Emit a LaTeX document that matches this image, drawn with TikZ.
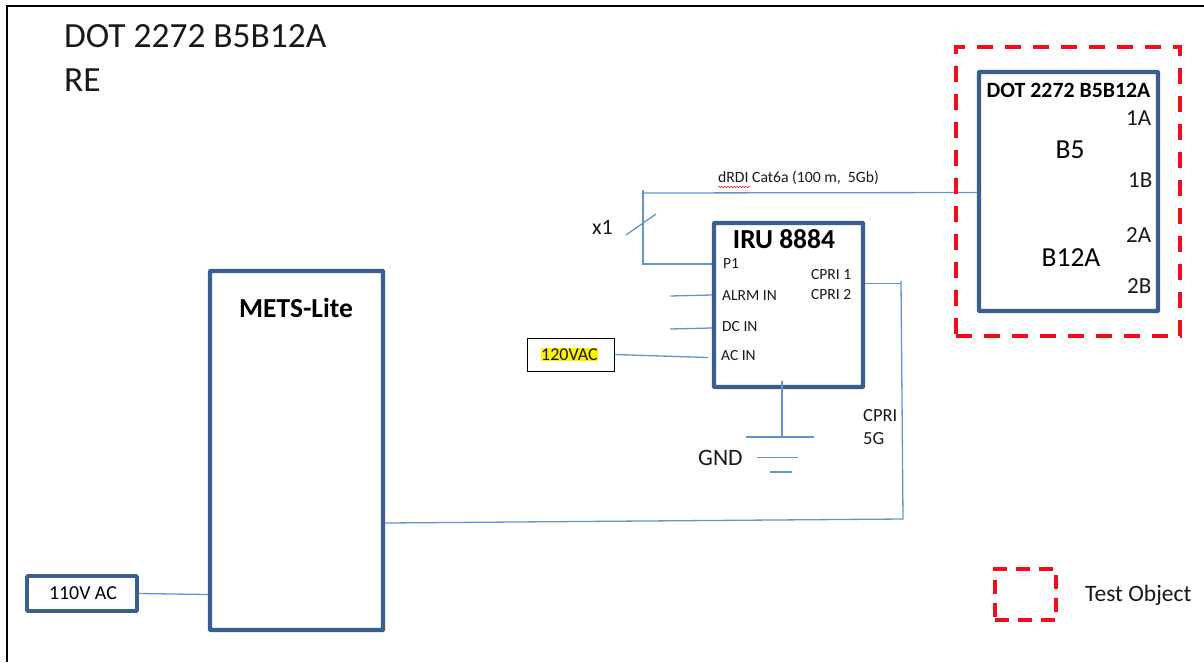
\documentclass[tikz,border=0pt]{standalone}
\usepackage{fontspec}
\setmainfont{Carlito}
\usetikzlibrary{decorations.pathmorphing}
\definecolor{boxblue}{HTML}{3A5F8F}
\definecolor{wireblue}{HTML}{6494CE}
\definecolor{testred}{HTML}{F00D1C}
\tikzset{
  unit/.style={draw=boxblue,line width=4.4pt,rounded corners=0.8pt,fill=white,inner sep=0pt},
  wire/.style={draw=wireblue,line width=1.3pt},
  testbox/.style={draw=testred,line width=3.4pt,dash pattern=on 16pt off 12pt,inner sep=0pt},
  lab/.style={inner sep=0pt,text=black!90,anchor=west},
  fpx/.style={font=\fontsize{#1}{#1}\selectfont}
}
\begin{document}
\begin{tikzpicture}[x=1pt,y=-1pt]
\useasboundingbox (0,0) rectangle (1204,662);
\fill[white] (0,0) rectangle (1204,662);
\draw[black,line width=2pt] (7,662) -- (7,6) -- (1204,6);

% boxes
\node[unit,minimum width=173pt,minimum height=359pt] (mets) at (296.5,450.5) {};
\node[unit,minimum width=149pt,minimum height=164pt] (iru) at (788.5,305) {};
\node[unit,minimum width=179pt,minimum height=239pt] (dot) at (1068.5,191.5) {};
\node[unit,line width=3.6pt,minimum width=110pt,minimum height=35pt,fpx=19.8] (ac110) at (82,593.5) {\hspace{2pt}110V AC};
\node[draw=black,line width=0.9pt,minimum width=87pt,minimum height=33pt,inner sep=0pt,fill=white] (ac120) at (570.5,354.5) {};

% free wire ends
\coordinate (busTop) at (643,190);
\coordinate (p1c) at (643,264);
\coordinate (alrm) at (670,296);
\coordinate (dcin) at (670,329);
\coordinate (acin) at (708,357.5);
\coordinate (cprTop) at (901,281);
\coordinate (cprJoin) at (901,283.5);
\coordinate (cprBot) at (903,519);
\coordinate (gndTop) at (782,381);
\coordinate (gnd1) at (782,437);
\coordinate (slashA) at (626,235);
\coordinate (slashB) at (656,214);

% connectors
\draw[wire] (643,193) -- (dot.west |- 0,192.5);
\draw[wire] (busTop) -- (p1c) -- (iru.west |- p1c);
\draw[wire] (slashA) -- (slashB);
\draw[wire] (alrm) -- (iru.west |- 0,295);
\draw[wire] (dcin) -- (iru.west |- 0,328);
\draw[wire] (ac120.east) -- (acin);
\draw[wire] (iru.east |- cprJoin) -- (cprJoin);
\draw[wire] (cprTop) -- (cprBot) -- (mets.east |- 0,523);
\draw[wire] (ac110.east) -- (mets.west |- 0,594.5);
\draw[wire] (gndTop) -- (gnd1);
\draw[wire] (746,437) -- (814,437);
\draw[wire] (757,457.5) -- (798,457.5);
\draw[wire] (770,472) -- (792,472);

% test-object frames, above the wire they cross
\node[testbox,minimum width=224pt,minimum height=289pt] (test) at (1068,191.5) {};
\node[testbox,minimum width=61pt,minimum height=51pt,dash pattern=on 14pt off 9pt] (testkey) at (1025.5,594.5) {};

% texts
\node[lab,fpx=35.4] (title) at (64,36) {DOT 2272 B5B12A};
\node[lab,fpx=35.4] (re) at (64,80) {RE};
\node[inner sep=0pt,font=\fontsize{27.5}{27.5}\selectfont\bfseries] (metst) at (296,308) {METS-Lite};
\node[inner sep=0pt,font=\fontsize{27.5}{27.5}\selectfont\bfseries] (irut) at (784,239) {IRU 8884};
\node[inner sep=0pt,font=\fontsize{21.8}{21.8}\selectfont\bfseries] (dott) at (1068.5,90) {DOT 2272 B5B12A};
\node[lab,fpx=23] at (1126,118.5) {1A};
\node[lab,fpx=23] at (1128,180) {1B};
\node[lab,fpx=23] at (1126,235) {2A};
\node[lab,fpx=23] at (1127,286) {2B};
\node[inner sep=0pt,fpx=27.5] at (1070,149.5) {B5};
\node[inner sep=0pt,fpx=27.5] at (1071,258) {B12A};
\node[lab,fpx=15.7] (drdi) at (718,178) {dRDI Cat6a (100 m,\ \ 5Gb)};
\draw[testred,line width=0.5pt,decorate,decoration={snake,amplitude=0.7pt,segment length=3pt}] (718,187) -- (750,187);
\node[lab,fpx=22] at (592,227.5) {x1};
\node[lab,fpx=15.5] at (723,264) {P1};
\node[lab,fpx=15.5] at (722,296) {ALRM IN};
\node[lab,fpx=15.5] at (722,327) {DC IN};
\node[lab,fpx=15.5] at (721,356) {AC IN};
\node[lab,fpx=15.5] at (811,275) {CPRI 1};
\node[lab,fpx=15.5] at (811,295) {CPRI 2};
\node[lab,fpx=18.5] at (863,416) {CPRI};
\node[lab,fpx=18.5] at (863,439) {5G};
\node[lab,fpx=23.5] at (698,458) {GND};
\node[lab,fpx=18,fill=yellow,inner xsep=0pt,inner ysep=1pt] at (541,354.5) {120VAC};
\node[lab,fpx=23.5] at (1085,595) {Test Object};
\end{tikzpicture}
\end{document}
